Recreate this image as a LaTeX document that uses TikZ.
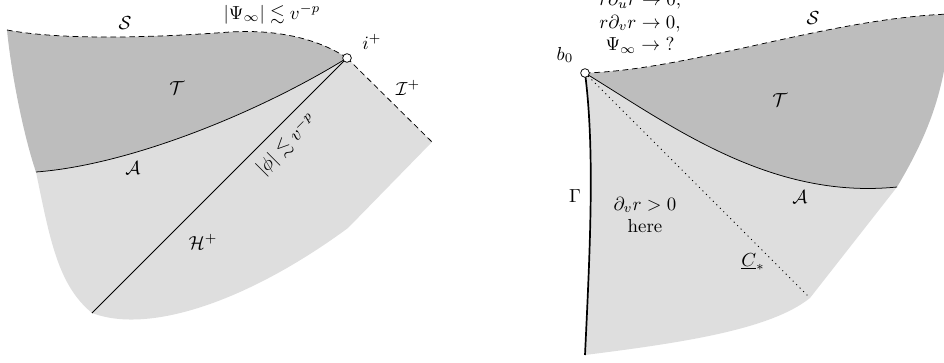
\documentclass[tikz,border=0pt]{standalone}
\usepackage{amsmath,amssymb}
\usetikzlibrary{positioning}

\begin{document}
\begin{tikzpicture}[x=0.53pt,y=-0.53pt,
  dark/.style={fill=black!26},
  light/.style={fill=black!13},
  nullbd/.style={draw,dash pattern=on 3pt off 2pt},
  dots/.style={draw,line width=0.75pt,line cap=round,dash pattern=on 0pt off 2.6pt},
  endpt/.style={draw,circle,fill=white,inner sep=0pt,minimum size=4.6pt}]
  \useasboundingbox (0,0) rectangle (944,363);
  % left diagram
  \coordinate (sL) at (7,30);
  \coordinate (aL) at (36,172);
  \coordinate (hb) at (92,313);
  \coordinate (rc) at (348,228);
  \coordinate (scri) at (432,142);
  \coordinate (ip) at (347,58);
  \fill[light] (aL) .. controls (50,240) and (58,285) .. (hb) .. controls (150,335) and (250,300) .. (rc) -- (scri) -- (ip)
    .. controls (260,112) and (130,165) .. (aL);
  \fill[dark] (sL) .. controls (60,40) and (150,38) .. (230,32) .. controls (280,29) and (320,40) .. (ip)
    .. controls (260,112) and (130,165) .. (aL) .. controls (25,140) and (12,80) .. (sL);
  \draw[nullbd] (sL) .. controls (60,40) and (150,38) .. (230,32) .. controls (280,29) and (320,40) .. (ip);
  \draw[nullbd] (ip) -- (scri);
  \draw (aL) .. controls (130,165) and (260,112) .. (ip);
  \draw (ip) -- (hb);
  \node[endpt] (iplus) at (ip) {};
  \node (lS) at (125,23) {$\mathcal{S}$};
  \node (lPsi) at (272,14) {$|\Psi_\infty|\lesssim v^{-p}$};
  \node (lip) at (372,42) {$i^+$};
  \node (lscri) at (408,88) {$\mathcal{I}^+$};
  \node (lT) at (177,88) {$\mathcal{T}$};
  \node (lA) at (133,168) {$\mathcal{A}$};
  \node[rotate=45] (lphi) at (287,145) {$|\phi|\lesssim v^{-p}$};
  \node (lH) at (203,242) {$\mathcal{H}^+$};
  % right diagram
  \coordinate (b) at (585,73);
  \coordinate (sR) at (950,14);
  \coordinate (aR) at (897,187);
  \coordinate (gb) at (585,355);
  \coordinate (cr) at (810,298);
  \fill[light] (b) .. controls (595,150) and (590,250) .. (gb) .. controls (680,343) and (770,330) .. (cr) -- (aR)
    .. controls (770,200) and (670,125) .. (b);
  \fill[dark] (b) .. controls (690,70) and (830,18) .. (sR) .. controls (948,90) and (925,140) .. (aR)
    .. controls (770,200) and (670,125) .. (b);
  \draw[nullbd] (b) .. controls (690,70) and (830,18) .. (sR);
  \draw (b) .. controls (670,125) and (770,200) .. (aR);
  \draw[line width=0.9pt] (b) .. controls (595,150) and (590,250) .. (gb);
  \draw[dots] (b) -- (cr);
  \node[endpt] (bzero) at (b) {};
  \node (lb) at (565,55) {$b_0$};
  \node[align=center] (ltop) at (640,23) {$r\partial_u r\to 0,$\\ $r\partial_v r\to 0,$\\ $\Psi_\infty\to{}$?};
  \node (lS2) at (813,18) {$\mathcal{S}$};
  \node (lT2) at (780,100) {$\mathcal{T}$};
  \node (lA2) at (800,197) {$\mathcal{A}$};
  \node (lG) at (575,196) {$\Gamma$};
  \node[align=center] (lhere) at (645,215) {$\partial_v r>0$\\ here};
  \node (lC) at (753,262) {$\underline{C}_*$};
\end{tikzpicture}
\end{document}
